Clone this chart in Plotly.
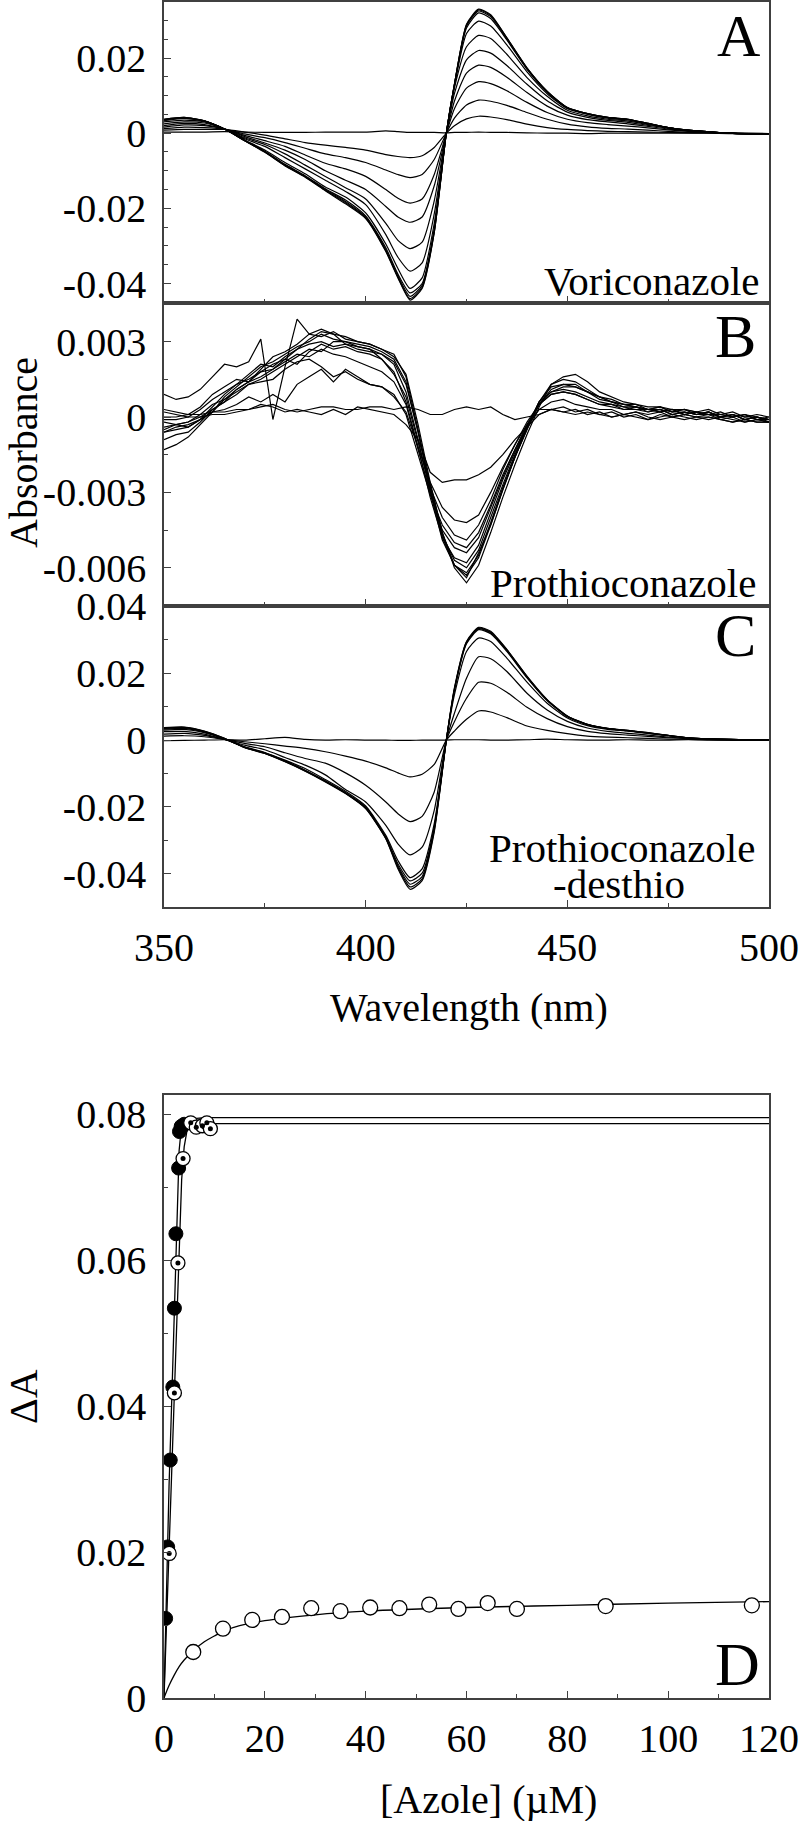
import plotly.graph_objects as go

# ---------------- data ----------------
WL_AC = [350, 355, 360, 365, 370, 375, 380, 385, 390, 395, 400, 405, 408, 411, 414, 417, 420,
         422, 425, 428, 431, 435, 440, 445, 450, 455, 460, 465, 470, 475, 480, 485, 490, 495, 500]

A0 = [0.0003, 0.0003, 0.0003, 0.0004, 0.0003, 0.0002, 0.0002, 0.0002, 0.0003, 0.0003, 0.0003, 0.0006, 0.0004, 0.0002, 0.0002, 0.0002, 0.0001, 0.0002, 0.0002, 0.0003, 0.0002, 0.0002, 0.0001, 0.0, 0.0, -0.0001, 0.0, 0.0, 0.0, 0.0, 0.0, 0.0, -0.0001, -0.0001, -0.0001]
A1 = [0.0008, 0.0010, 0.0010, 0.0010, 0.0003, -0.0005, -0.0015, -0.0025, -0.0032, -0.0038, -0.0045, -0.0057, -0.0062, -0.0065, -0.0060, -0.0038, 0.0, 0.0020, 0.0038, 0.0045, 0.0043, 0.0036, 0.0024, 0.0015, 0.0010, 0.0007, 0.0005, 0.0004, 0.0003, 0.0002, 0.0001, 0.0001, 0.0, 0.0, -0.0001]
A2 = [0.0012, 0.0016, 0.0015, 0.0011, -0.0002, -0.0012, -0.0025, -0.0040, -0.0055, -0.0065, -0.0078, -0.0098, -0.0110, -0.0118, -0.0110, -0.0070, 0.0, 0.0040, 0.0075, 0.0088, 0.0085, 0.0074, 0.0055, 0.0037, 0.0024, 0.0017, 0.0013, 0.0011, 0.0008, 0.0005, 0.0002, 0.0001, 0.0, -0.0001, -0.0002]
A3 = [0.0016, 0.0022, 0.0020, 0.0011, -0.0006, -0.0020, -0.0035, -0.0058, -0.0080, -0.0095, -0.0115, -0.0150, -0.0173, -0.0186, -0.0175, -0.0110, 0.0, 0.0065, 0.0120, 0.0137, 0.0132, 0.0113, 0.0082, 0.0055, 0.0037, 0.0028, 0.0023, 0.0019, 0.0014, 0.0009, 0.0005, 0.0002, 0.0, -0.0001, -0.0002]
A4 = [0.0020, 0.0026, 0.0023, 0.0011, -0.0009, -0.0026, -0.0045, -0.0070, -0.0100, -0.0125, -0.0150, -0.0195, -0.0223, -0.0237, -0.0223, -0.0140, 0.0, 0.0085, 0.0160, 0.0181, 0.0175, 0.0149, 0.0108, 0.0072, 0.0048, 0.0036, 0.0030, 0.0025, 0.0018, 0.0011, 0.0006, 0.0003, 0.0, -0.0001, -0.0002]
A5 = [0.0025, 0.0030, 0.0027, 0.0011, -0.0012, -0.0030, -0.0055, -0.0085, -0.0115, -0.0145, -0.0175, -0.0240, -0.0285, -0.0307, -0.0290, -0.0180, 0.0, 0.0105, 0.0195, 0.0220, 0.0213, 0.0180, 0.0130, 0.0086, 0.0056, 0.0042, 0.0034, 0.0029, 0.0021, 0.0013, 0.0007, 0.0003, 0.0, -0.0001, -0.0002]
A6 = [0.0030, 0.0035, 0.0030, 0.0011, -0.0015, -0.0035, -0.0065, -0.0095, -0.0125, -0.0155, -0.0190, -0.0270, -0.0330, -0.0367, -0.0345, -0.0215, 0.0, 0.0120, 0.0230, 0.0260, 0.0252, 0.0210, 0.0148, 0.0098, 0.0061, 0.0046, 0.0037, 0.0032, 0.0023, 0.0014, 0.0007, 0.0003, 0.0, -0.0002, -0.0003]
A7 = [0.0033, 0.0039, 0.0032, 0.0011, -0.0018, -0.0045, -0.0078, -0.0108, -0.0143, -0.0170, -0.0212, -0.0295, -0.0360, -0.0413, -0.0385, -0.0240, 0.0, 0.0125, 0.0265, 0.0298, 0.0285, 0.0235, 0.0163, 0.0105, 0.0065, 0.0050, 0.0040, 0.0035, 0.0025, 0.0015, 0.0008, 0.0004, 0.0, -0.0002, -0.0003]
A8 = [0.0035, 0.0040, 0.0032, 0.0011, -0.0019, -0.0048, -0.0083, -0.0113, -0.0148, -0.0178, -0.0220, -0.0305, -0.0375, -0.0425, -0.0400, -0.0255, 0.0, 0.0128, 0.0280, 0.0320, 0.0305, 0.0248, 0.0170, 0.0109, 0.0067, 0.0051, 0.0041, 0.0036, 0.0025, 0.0015, 0.0008, 0.0004, 0.0, -0.0002, -0.0003]
A9 = [0.0036, 0.0041, 0.0033, 0.0011, -0.0020, -0.0049, -0.0085, -0.0115, -0.0150, -0.0182, -0.0223, -0.0310, -0.0380, -0.0434, -0.0405, -0.0260, 0.0, 0.0129, 0.0285, 0.0325, 0.0310, 0.0251, 0.0172, 0.0110, 0.0068, 0.0052, 0.0042, 0.0037, 0.0026, 0.0015, 0.0008, 0.0004, 0.0, -0.0002, -0.0003]
A10 = [0.0037, 0.0042, 0.0033, 0.0011, -0.0020, -0.0050, -0.0086, -0.0116, -0.0152, -0.0185, -0.0225, -0.0313, -0.0383, -0.0440, -0.0410, -0.0263, 0.0, 0.0130, 0.0288, 0.0328, 0.0313, 0.0253, 0.0173, 0.0111, 0.0068, 0.0052, 0.0042, 0.0037, 0.0026, 0.0015, 0.0008, 0.0004, 0.0, -0.0002, -0.0003]
A11 = [0.0037, 0.0042, 0.0033, 0.0011, -0.0020, -0.0051, -0.0087, -0.0117, -0.0153, -0.0188, -0.0227, -0.0315, -0.0385, -0.0444, -0.0413, -0.0265, 0.0, 0.0130, 0.0290, 0.0330, 0.0315, 0.0254, 0.0174, 0.0112, 0.0068, 0.0052, 0.0042, 0.0037, 0.0026, 0.0015, 0.0008, 0.0004, 0.0, -0.0002, -0.0003]

WL_B = [350, 353, 356, 359, 362, 365, 368, 371, 374, 377, 380, 383, 386, 389, 392, 395, 398,
        401, 404, 407, 410, 413, 416, 419, 422, 425, 428, 431, 434, 437, 440, 443, 446, 449,
        452, 455, 458, 461, 464, 467, 470, 473, 476, 479, 482, 485, 488, 491, 494, 497, 500]

B0 = [0.0, 0.0, 0.0001, 0.0001, 0.0002, 0.0002, 0.0003, 0.0003, 0.0004, 0.0005,
      0.0003, 0.0002, 0.0003, 0.0004, 0.0004, 0.0003, 0.0003, 0.0004, 0.0004, 0.0003,
      0.0004, 0.0003, 0.0001, 0.0001, 0.0003, 0.0004, 0.0003, 0.0004, 0.0001, -0.0001,
      0.0, 0.0001, 0.0003, 0.0002, 0.0001, 0.0002, 0.0001, 0.0, 0.0001, 0.0,
      -0.0001, 0.0, 0.0001, 0.0, -0.0001, 0.0, -0.0001, -0.0002, -0.0001, -0.0002, -0.0002]
B1 = [-0.0001, -0.0001, 0.0, 0.0, 0.0001, 0.0001, 0.0002, 0.0003, 0.0005, 0.0004,
      0.0002, 0.0003, 0.0002, 0.0001, 0.0003, 0.0001, 0.0004, 0.0003, 0.0002, 0.0001,
      -0.0003, -0.0009, -0.0022, -0.0026, -0.0025, -0.0025, -0.0023, -0.0020, -0.0015, -0.0009,
      -0.0004, 0.0001, 0.0003, 0.0002, 0.0003, 0.0001, 0.0002, 0.0, 0.0001, 0.0002,
      0.0, -0.0001, 0.0, 0.0001, 0.0, -0.0001, 0.0, -0.0001, -0.0002, -0.0001, -0.0002]
B2 = [-0.0006, -0.0004, -0.0003, -0.0001, 0.0002, 0.0003, 0.0005, 0.0008, 0.0006, 0.0009,
      0.0006, 0.0013, 0.0016, 0.0019, 0.0014, 0.0019, 0.0016, 0.0013, 0.0012, 0.0008,
      0.0002, -0.0012, -0.0026, -0.0036, -0.0041, -0.0042, -0.0039, -0.0030, -0.0020, -0.0011,
      -0.0003, 0.0003, 0.0003, 0.0004, 0.0002, 0.0003, 0.0001, 0.0002, 0.0, 0.0001,
      -0.0001, 0.0001, 0.0, -0.0001, 0.0, 0.0, -0.0001, -0.0002, -0.0001, -0.0002, -0.0002]
B3 = [0.0009, 0.0007, 0.0008, 0.0011, 0.0016, 0.0021, 0.0020, 0.0022, 0.0031, -0.0001,
      0.0020, 0.0039, 0.0033, 0.0035, 0.0033, 0.0029, 0.0028, 0.0027, 0.0023, 0.0017,
      0.0008, -0.0010, -0.0028, -0.0040, -0.0047, -0.0049, -0.0043, -0.0033, -0.0021, -0.0011,
      -0.0002, 0.0005, 0.0009, 0.0010, 0.0009, 0.0007, 0.0005, 0.0005, 0.0003, 0.0004,
      0.0002, 0.0003, 0.0001, 0.0002, 0.0001, 0.0002, 0.0, 0.0001, -0.0001, 0.0, -0.0001]
B4 = [-0.0004, -0.0003, -0.0002, 0.0001, 0.0005, 0.0007, 0.0010, 0.0013, 0.0014, 0.0015,
      0.0019, 0.0022, 0.0023, 0.0020, 0.0016, 0.0018, 0.0015, 0.0013, 0.0012, 0.0009,
      0.0001, -0.0015, -0.0031, -0.0043, -0.0050, -0.0052, -0.0046, -0.0035, -0.0023, -0.0013,
      -0.0004, 0.0003, 0.0006, 0.0007, 0.0005, 0.0004, 0.0003, 0.0003, 0.0001, 0.0002,
      0.0001, 0.0002, 0.0, 0.0001, 0.0, 0.0001, -0.0001, 0.0, -0.0002, -0.0001, -0.0002]
B5 = [0.0002, 0.0001, 0.0, 0.0003, 0.0007, 0.0010, 0.0013, 0.0015, 0.0018, 0.0019,
      0.0022, 0.0025, 0.0024, 0.0027, 0.0025, 0.0024, 0.0022, 0.0020, 0.0018, 0.0014,
      0.0005, -0.0013, -0.0030, -0.0045, -0.0052, -0.0054, -0.0048, -0.0036, -0.0024, -0.0013,
      -0.0003, 0.0005, 0.0009, 0.0010, 0.0009, 0.0007, 0.0005, 0.0004, 0.0003, 0.0003,
      0.0002, 0.0003, 0.0001, 0.0002, 0.0001, 0.0001, 0.0, 0.0001, -0.0001, 0.0, -0.0001]
B6 = [-0.0009, -0.0007, -0.0006, -0.0002, 0.0003, 0.0006, 0.0011, 0.0014, 0.0016, 0.0019,
      0.0023, 0.0021, 0.0026, 0.0029, 0.0027, 0.0028, 0.0026, 0.0025, 0.0023, 0.0018,
      0.0006, -0.0012, -0.0032, -0.0048, -0.0056, -0.0058, -0.0051, -0.0038, -0.0025, -0.0014,
      -0.0004, 0.0006, 0.0010, 0.0011, 0.0010, 0.0008, 0.0006, 0.0005, 0.0004, 0.0003,
      0.0003, 0.0002, 0.0003, 0.0001, 0.0002, 0.0001, 0.0001, 0.0, 0.0001, -0.0001, -0.0001]
B7 = [-0.0013, -0.0011, -0.0008, -0.0003, 0.0002, 0.0008, 0.0012, 0.0016, 0.0020, 0.0022,
      0.0025, 0.0028, 0.0030, 0.0033, 0.0031, 0.0030, 0.0029, 0.0028, 0.0026, 0.0023,
      0.0014, -0.0006, -0.0029, -0.0047, -0.0057, -0.0060, -0.0053, -0.0040, -0.0027, -0.0015,
      -0.0004, 0.0006, 0.0012, 0.0013, 0.0012, 0.0010, 0.0007, 0.0006, 0.0005, 0.0004,
      0.0003, 0.0004, 0.0002, 0.0003, 0.0001, 0.0002, 0.0, 0.0001, 0.0, 0.0, -0.0002]
B8 = [0.0003, 0.0002, 0.0001, 0.0004, 0.0009, 0.0012, 0.0015, 0.0014, 0.0019, 0.0024,
      0.0026, 0.0029, 0.0033, 0.0032, 0.0034, 0.0031, 0.0030, 0.0029, 0.0027, 0.0025,
      0.0016, -0.0005, -0.0028, -0.0048, -0.0059, -0.0062, -0.0055, -0.0042, -0.0028, -0.0016,
      -0.0005, 0.0006, 0.0013, 0.0015, 0.0014, 0.0011, 0.0008, 0.0007, 0.0005, 0.0005,
      0.0003, 0.0004, 0.0002, 0.0003, 0.0002, 0.0001, 0.0002, 0.0, 0.0001, -0.0001, 0.0]
B9 = [-0.0006, -0.0005, -0.0004, -0.0001, 0.0004, 0.0009, 0.0013, 0.0017, 0.0021, 0.0020,
      0.0024, 0.0027, 0.0029, 0.0030, 0.0028, 0.0029, 0.0027, 0.0026, 0.0025, 0.0021,
      0.0010, -0.0009, -0.0030, -0.0049, -0.0059, -0.0063, -0.0056, -0.0043, -0.0029, -0.0016,
      -0.0005, 0.0005, 0.0011, 0.0013, 0.0013, 0.0010, 0.0008, 0.0006, 0.0004, 0.0004,
      0.0003, 0.0003, 0.0002, 0.0002, 0.0001, 0.0002, 0.0, 0.0001, -0.0001, 0.0, -0.0001]
B10 = [-0.0002, -0.0003, -0.0002, 0.0, 0.0003, 0.0006, 0.0009, 0.0013, 0.0015, 0.0018,
       0.0021, 0.0024, 0.0027, 0.0026, 0.0030, 0.0030, 0.0028, 0.0027, 0.0025, 0.0022,
       0.0013, -0.0006, -0.0027, -0.0046, -0.0059, -0.0064, -0.0054, -0.0043, -0.0029, -0.0016,
       -0.0004, 0.0005, 0.0010, 0.0012, 0.0012, 0.0010, 0.0008, 0.0006, 0.0005, 0.0004,
       0.0003, 0.0002, 0.0003, 0.0001, 0.0002, 0.0001, 0.0001, 0.0, 0.0001, 0.0, -0.0001]
B11 = [-0.0005, -0.0003, -0.0004, -0.0001, 0.0002, 0.0007, 0.0011, 0.0014, 0.0018, 0.0021,
       0.0023, 0.0027, 0.0031, 0.0034, 0.0033, 0.0032, 0.0030, 0.0029, 0.0027, 0.0024,
       0.0017, -0.0003, -0.0026, -0.0046, -0.0060, -0.0066, -0.0059, -0.0046, -0.0032, -0.0019,
       -0.0007, 0.0004, 0.0013, 0.0016, 0.0017, 0.0014, 0.0010, 0.0008, 0.0006, 0.0005,
       0.0004, 0.0004, 0.0003, 0.0003, 0.0002, 0.0003, 0.0001, 0.0002, 0.0, 0.0001, 0.0]

C0 = [-0.0002, -0.0001, 0.0, 0.0001, 0.0, 0.0004, 0.0008, 0.0002, 0.0, 0.0001, 0.0, 0.0, -0.0001, -0.0001, 0.0, 0.0, 0.0, 0.0001, 0.0001, 0.0001, 0.0, 0.0, 0.0001, 0.0003, 0.0001, 0.0, 0.0, 0.0001, 0.0, 0.0, 0.0001, 0.0, 0.0, 0.0, -0.0001]
C1 = [0.0012, 0.0013, 0.0010, 0.0002, -0.0005, -0.0011, -0.0018, -0.0025, -0.0035, -0.0048, -0.0063, -0.0083, -0.0098, -0.0110, -0.0102, -0.0073, 0.0, 0.0027, 0.0062, 0.0087, 0.0084, 0.0067, 0.0042, 0.0029, 0.0019, 0.0012, 0.0009, 0.0007, 0.0005, 0.0003, 0.0002, 0.0001, 0.0, 0.0, -0.0001]
C2 = [0.0018, 0.0020, 0.0014, 0.0002, -0.0010, -0.0020, -0.0038, -0.0055, -0.0069, -0.0098, -0.0135, -0.0185, -0.0220, -0.0244, -0.0228, -0.0155, 0.0, 0.0055, 0.0125, 0.0173, 0.0170, 0.0143, 0.0098, 0.0064, 0.0040, 0.0026, 0.0019, 0.0015, 0.0011, 0.0007, 0.0004, 0.0002, 0.0001, 0.0, -0.0001]
C3 = [0.0025, 0.0026, 0.0018, 0.0002, -0.0015, -0.0029, -0.0052, -0.0075, -0.0104, -0.0148, -0.0185, -0.0255, -0.0310, -0.0343, -0.0320, -0.0210, 0.0, 0.0080, 0.0185, 0.0249, 0.0243, 0.0205, 0.0140, 0.0090, 0.0056, 0.0036, 0.0026, 0.0020, 0.0015, 0.0009, 0.0005, 0.0002, 0.0001, 0.0, -0.0001]
C4 = [0.0030, 0.0032, 0.0022, 0.0003, -0.0020, -0.0037, -0.0060, -0.0085, -0.0118, -0.0153, -0.0197, -0.0285, -0.0360, -0.0411, -0.0385, -0.0250, 0.0, 0.0135, 0.0265, 0.0305, 0.0295, 0.0245, 0.0173, 0.0110, 0.0066, 0.0043, 0.0032, 0.0027, 0.0020, 0.0013, 0.0007, 0.0004, 0.0002, 0.0001, 0.0]
C5 = [0.0033, 0.0035, 0.0024, 0.0004, -0.0021, -0.0038, -0.0062, -0.0090, -0.0122, -0.0157, -0.0200, -0.0290, -0.0370, -0.0421, -0.0398, -0.0260, 0.0, 0.0148, 0.0288, 0.0330, 0.0318, 0.0265, 0.0186, 0.0118, 0.0070, 0.0046, 0.0034, 0.0028, 0.0021, 0.0013, 0.0007, 0.0004, 0.0002, 0.0001, 0.0]
C6 = [0.0035, 0.0037, 0.0025, 0.0004, -0.0022, -0.0039, -0.0063, -0.0091, -0.0123, -0.0158, -0.0202, -0.0292, -0.0376, -0.0431, -0.0408, -0.0265, 0.0, 0.0150, 0.0291, 0.0333, 0.0321, 0.0268, 0.0188, 0.0119, 0.0071, 0.0046, 0.0034, 0.0028, 0.0021, 0.0014, 0.0007, 0.0004, 0.0002, 0.0001, 0.0]
C7 = [0.0036, 0.0038, 0.0026, 0.0005, -0.0022, -0.0040, -0.0064, -0.0092, -0.0124, -0.0159, -0.0204, -0.0294, -0.0380, -0.0439, -0.0415, -0.0270, 0.0, 0.0153, 0.0293, 0.0335, 0.0323, 0.0270, 0.0190, 0.0120, 0.0072, 0.0047, 0.0035, 0.0029, 0.0022, 0.0014, 0.0007, 0.0004, 0.0002, 0.0001, 0.0]
C8 = [0.0037, 0.0039, 0.0027, 0.0005, -0.0023, -0.0040, -0.0065, -0.0093, -0.0125, -0.0160, -0.0205, -0.0295, -0.0385, -0.0446, -0.0420, -0.0275, 0.0, 0.0156, 0.0295, 0.0337, 0.0325, 0.0271, 0.0191, 0.0121, 0.0072, 0.0047, 0.0035, 0.0029, 0.0022, 0.0014, 0.0007, 0.0004, 0.0002, 0.0001, 0.0]

# Panel D: titration data and fitted curves
D_open_x = [5.8, 11.7, 17.5, 23.4, 29.2, 35.0, 40.9, 46.7, 52.6, 58.4, 64.2, 70.0, 87.6, 116.6]
D_open_y = [0.0063, 0.0095, 0.0107, 0.0111, 0.0123, 0.0119, 0.0124, 0.0123, 0.0128, 0.0122, 0.0130, 0.0122, 0.0126, 0.0127]
D_open_fit_x = [0, 1, 2, 3, 4, 6, 8, 10, 12, 15, 20, 30, 40, 60, 80, 100, 120]
D_open_fit_y = [0, 0.0017, 0.0031, 0.0043, 0.0052, 0.0066, 0.0077, 0.0085, 0.0092, 0.0099, 0.0106, 0.0114, 0.0119, 0.0124, 0.0127, 0.0130, 0.0132]

D_filled_x = [0.32, 0.73, 1.24, 1.75, 2.06, 2.36, 2.9, 3.07, 3.4, 4.0]
D_filled_y = [0.0109, 0.0207, 0.0326, 0.0426, 0.0534, 0.0636, 0.0726, 0.0776, 0.0783, 0.0786]
D_filled_fit_x = [0, 0.5, 1.0, 1.5, 2.0, 2.5, 3.0, 3.5, 4.0, 5.0, 8.0, 20, 60, 120]
D_filled_fit_y = [0, 0.016, 0.029, 0.040, 0.052, 0.065, 0.075, 0.0785, 0.0790, 0.0793, 0.0795, 0.0795, 0.0795, 0.0795]

D_dot_x = [1.03, 2.06, 2.76, 3.78, 5.3, 6.4, 7.6, 8.5, 9.2]
D_dot_y = [0.0198, 0.0418, 0.0596, 0.0739, 0.0788, 0.0782, 0.0784, 0.0788, 0.0780]
D_dot_fit_x = [0, 1, 2, 2.5, 3, 3.5, 4, 4.5, 5, 6, 8, 20, 60, 120]
D_dot_fit_y = [0, 0.0205, 0.042, 0.053, 0.063, 0.071, 0.0755, 0.0775, 0.0782, 0.0785, 0.0787, 0.0787, 0.0787, 0.0787]

# tick labels
WL_TICKS = [350, 400, 450, 500]
WL_TICKTEXT = ["350", "400", "450", "500"]
A_TICKS = [-0.04, -0.02, 0, 0.02]
A_TICKTEXT = ["-0.04", "-0.02", "0", "0.02"]
B_TICKS = [-0.006, -0.003, 0, 0.003]
B_TICKTEXT = ["-0.006", "-0.003", "0", "0.003"]
C_TICKS = [-0.04, -0.02, 0, 0.02, 0.04]
C_TICKTEXT = ["-0.04", "-0.02", "0", "0.02", "0.04"]
D_YTICKS = [0, 0.02, 0.04, 0.06, 0.08]
D_YTICKTEXT = ["0", "0.02", "0.04", "0.06", "0.08"]
D_XTICKS = [0, 20, 40, 60, 80, 100, 120]
D_XTICKTEXT = ["0", "20", "40", "60", "80", "100", "120"]

# ---------------- figure ----------------
FONT = "'Liberation Serif', 'DejaVu Serif', serif"
fig = go.Figure()

def spectra(curves, wl, xa, ya, shape):
    for c in curves:
        fig.add_trace(go.Scatter(x=wl, y=c, mode="lines", xaxis=xa, yaxis=ya,
                                 line=dict(color="black", width=1.2, shape=shape, smoothing=0.6),
                                 showlegend=False, hoverinfo="skip"))

spectra([A0, A1, A2, A3, A4, A5, A6, A7, A8, A9, A10, A11], WL_AC, "x", "y", "spline")
spectra([B0, B1, B2, B3, B4, B5, B6, B7, B8, B9, B10, B11], WL_B, "x2", "y2", "linear")
spectra([C0, C1, C2, C3, C4, C5, C6, C7, C8], WL_AC, "x3", "y3", "spline")

# Panel D
for fx, fy, shp in [(D_open_fit_x, D_open_fit_y, "spline"),
                    (D_filled_fit_x, D_filled_fit_y, "linear"),
                    (D_dot_fit_x, D_dot_fit_y, "linear")]:
    fig.add_trace(go.Scatter(x=fx, y=fy, mode="lines", xaxis="x4", yaxis="y4",
                             line=dict(color="black", width=1.3, shape=shp),
                             showlegend=False, hoverinfo="skip"))
fig.add_trace(go.Scatter(x=D_open_x, y=D_open_y, mode="markers", xaxis="x4", yaxis="y4",
                         marker=dict(symbol="circle", size=15, color="white",
                                     line=dict(color="black", width=1.3)), showlegend=False))
fig.add_trace(go.Scatter(x=D_filled_x, y=D_filled_y, mode="markers", xaxis="x4", yaxis="y4",
                         marker=dict(symbol="circle", size=14, color="black",
                                     line=dict(color="black", width=1)), showlegend=False))
fig.add_trace(go.Scatter(x=D_dot_x, y=D_dot_y, mode="markers", xaxis="x4", yaxis="y4",
                         marker=dict(symbol="circle", size=14, color="white",
                                     line=dict(color="black", width=1.3)), showlegend=False))
fig.add_trace(go.Scatter(x=D_dot_x, y=D_dot_y, mode="markers", xaxis="x4", yaxis="y4",
                         marker=dict(symbol="circle", size=5, color="black"), showlegend=False))

AX = dict(showline=True, linecolor="#404040", linewidth=1.6, mirror=True,
          ticks="inside", ticklen=7, tickwidth=1.2, tickcolor="#404040",
          showgrid=False, zeroline=False, automargin=False,
          tickfont=dict(family=FONT, size=40, color="black"))

def minor(vals):
    return dict(tickmode="array", tickvals=vals, ticks="inside", ticklen=4,
                tickwidth=1.2, tickcolor="#404040", showgrid=False)

wl_minor = [375, 425, 475]
dom = {"A": [0.8227, 1.0], "B": [0.6439, 0.8227], "C": [0.4664, 0.6439], "D": [0.0, 0.3555]}

fig.update_layout(
    template="none",
    width=800, height=1821,
    margin=dict(l=164, r=31, t=2, b=123, pad=0, autoexpand=False),
    paper_bgcolor="white", plot_bgcolor="white", showlegend=False,
    font=dict(family=FONT, color="black"),
    xaxis=dict(AX, domain=[0, 1], range=[350, 500], anchor="y", tickmode="array",
               tickvals=WL_TICKS, ticktext=WL_TICKTEXT, showticklabels=False, minor=minor(wl_minor)),
    yaxis=dict(AX, domain=dom["A"], range=[-0.0451, 0.0349], anchor="x", tickmode="array",
               tickvals=A_TICKS, ticktext=A_TICKTEXT, ticklabelstandoff=8,
               minor=minor([-0.045, -0.035, -0.03, -0.025, -0.015, -0.01, -0.005, 0.005, 0.01, 0.015, 0.025, 0.03])),
    xaxis2=dict(AX, domain=[0, 1], range=[350, 500], anchor="y2", tickmode="array",
                tickvals=WL_TICKS, ticktext=WL_TICKTEXT, showticklabels=False, minor=minor(wl_minor)),
    yaxis2=dict(AX, domain=dom["B"], range=[-0.00752, 0.00455], anchor="x2", tickmode="array",
                tickvals=B_TICKS, ticktext=B_TICKTEXT, ticklabelstandoff=8,
                minor=minor([-0.0075, -0.0045, -0.0015, 0.0015, 0.0045])),
    xaxis3=dict(AX, domain=[0, 1], range=[350, 500], anchor="y3", tickmode="array",
                tickvals=WL_TICKS, ticktext=WL_TICKTEXT, ticklabelstandoff=4, minor=minor(wl_minor)),
    yaxis3=dict(AX, domain=dom["C"], range=[-0.0499, 0.0401], anchor="x3", tickmode="array",
                tickvals=C_TICKS, ticktext=C_TICKTEXT, ticklabelstandoff=8,
                minor=minor([-0.03, -0.01, 0.01, 0.03])),
    xaxis4=dict(AX, domain=[0, 1], range=[0, 120], anchor="y4", tickmode="array",
                tickvals=D_XTICKS, ticktext=D_XTICKTEXT, ticklabelstandoff=4,
                minor=minor([10, 30, 50, 70, 90, 110])),
    yaxis4=dict(AX, domain=dom["D"], range=[0, 0.0826], anchor="x4", tickmode="array",
                tickvals=D_YTICKS, ticktext=D_YTICKTEXT, ticklabelstandoff=8,
                minor=minor([0.01, 0.03, 0.05, 0.07])),
)

def ann(text, x, y, size, xanchor="center", angle=0):
    fig.add_annotation(text=text, x=x, y=y, xref="paper", yref="paper", showarrow=False,
                       xanchor=xanchor, yanchor="middle", textangle=angle,
                       font=dict(family=FONT, size=size, color="black"))

ann("A", 0.9884, 0.9800, 60, "right")
ann("B", 0.9818, 0.8031, 62, "right")
ann("C", 0.9818, 0.6268, 62, "right")
ann("D", 0.9884, 0.0200, 62, "right")
ann("Voriconazole", 0.9884, 0.8355, 41, "right")
ann("Prothioconazole", 0.9818, 0.6574, 41, "right")
ann("Prothioconazole", 0.7562, 0.5012, 41, "center")
ann("-desthio", 0.7520, 0.4800, 41, "center")
ann("Absorbance", -0.2314, 0.7341, 40, "center", -90)
ann("Wavelength (nm)", 0.504, 0.4074, 40, "center")
ann("ΔA", -0.2314, 0.1775, 40, "center", -90)
ann("[Azole] (µM)", 0.537, -0.0601, 40, "center")

fig.write_html("out.html", config={"displayModeBar": False},
               post_script="document.body.style.margin='0px';document.body.style.padding='0px';")
